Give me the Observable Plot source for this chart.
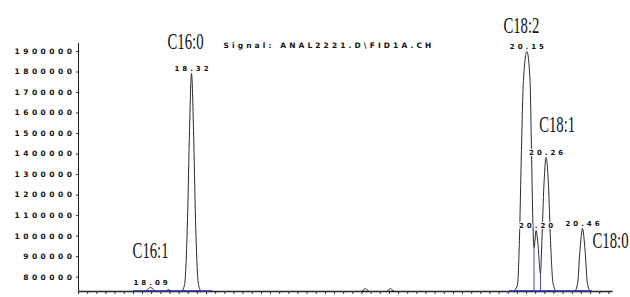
<!DOCTYPE html>
<html><head><meta charset="utf-8">
<script src="https://cdn.jsdelivr.net/npm/d3@7"></script>
<script src="https://cdn.jsdelivr.net/npm/@observablehq/plot@0.6"></script>
<style>
html,body{margin:0;padding:0;background:#fff;overflow:hidden}
g[aria-label="y-axis tick label"] text{letter-spacing:3.5px;font-weight:bold;font-size:7.5px;font-family:"DejaVu Sans"}
g[aria-description="rt labels"] text{letter-spacing:3px}
g[aria-description="title"] text{letter-spacing:3.1px}
</style></head><body><div id="chart"></div>
<script>
// Chromatogram trace (retention time in min, detector signal in counts)
const traceTime = [17.700,
  18.066,18.083,18.094,18.105,18.121,
  18.176,18.192,18.209,
  18.263,18.280,18.296,18.307,18.318,18.329,18.340,18.356,18.373,
  19.247,19.269,19.291,19.384,19.406,19.428,
  20.073,20.100,20.111,20.122,20.133,20.152,20.169,20.177,20.185,20.191,20.202,20.213,20.226,20.234,20.245,20.257,20.270,20.281,20.295,20.314,
  20.412,20.429,20.442,20.456,20.470,20.483,20.500,
  20.620];
const traceSignal = [730000,
  730000,744600,749500,744600,730000,
  730000,739750,730000,
  730000,764100,1076100,1514900,1792800,1514900,1076100,764100,730000,
  730000,744600,730000,730000,744600,730000,
  730000,759250,978600,1417400,1758600,1900000,1758600,1417400,1051800,944500,1027400,954300,817800,978600,1246800,1383300,1246800,978600,769000,730000,
  730000,769000,929900,1037100,929900,769000,730000,
  730000];

// Integrated peaks
const peakTime   = [18.094, 18.318, 20.152, 20.202, 20.257, 20.456];
const peakSignal = [749500, 1792800, 1900000, 1027400, 1383300, 1037100];
const peakName   = ["C16:1", "C16:0", "C18:2", "", "C18:1", "C18:0"];

// Integration baselines and drop lines
const integStart = [18.001, 20.057];
const integEnd   = [18.433, 20.511];
const dropTime   = [20.191, 20.226];
const dropSignal = [944500, 817800];

const yTicks = [800000, 900000, 1000000, 1100000, 1200000, 1300000, 1400000, 1500000, 1600000, 1700000, 1800000, 1900000];
const signalTitle = "Signal: ANAL2221.D\\FID1A.CH";

const baseSignal = 730000;
const trace = traceTime.map((t, i) => ({t, v: traceSignal[i]}));
const peaks = peakTime.map((t, i) => ({t, v: peakSignal[i], name: peakName[i], rt: t.toFixed(2)}));
const integ = integStart.map((s, i) => ({x1: s, x2: integEnd[i]}));
const drops = dropTime.map((t, i) => ({t, v: dropSignal[i]}));
const xTicks = d3.range(0, 59).map(i => +(17.7 + i * 0.05).toFixed(2));

const nameOffsets = {"C16:1": [0, -36.5], "C16:0": [-6, -32], "C18:2": [-5.5, -26], "C18:1": [11, -32.5], "C18:0": [28, 12]};

const nameMarks = peaks.filter(p => p.name).map(p => Plot.text([p], {
  x: "t", y: "v", text: "name",
  dx: nameOffsets[p.name][0], dy: nameOffsets[p.name][1],
  fontSize: 23, fontFamily: "Liberation Serif", fill: "#111",
  ariaDescription: "peak name"
}));

const chart = Plot.plot({
  width: 630, height: 297,
  marginLeft: 78, marginRight: 18, marginTop: 0, marginBottom: 6,
  style: {background: "#fff", fontFamily: "DejaVu Sans", color: "#111"},
  x: {domain: [17.7, 20.62], range: [78, 612], label: null},
  y: {domain: [baseSignal, 1900000], range: [291, 51], label: null},
  marks: [
    Plot.axisX({ticks: xTicks, tickSize: 3, tickFormat: () => "", stroke: "#333", label: null}),
    Plot.axisY({ticks: yTicks, tickSize: 2, tickPadding: 1, tickFormat: d => String(d), stroke: "#333", fill: "#111", label: null}),
    Plot.ruleX([17.7], {y1: baseSignal, y2: 1939000, stroke: "#222", strokeWidth: 1}),
    Plot.ruleY([baseSignal], {stroke: "#111", strokeWidth: 1.3}),
    Plot.line(trace, {x: "t", y: "v", stroke: "#2a2a2a", strokeWidth: 1, curve: "monotone-x"}),
    Plot.ruleY(integ, {x1: "x1", x2: "x2", y: () => baseSignal + 2500, stroke: "#2b2bb0", strokeWidth: 1.5}),
    Plot.ruleX(drops, {x: "t", y1: baseSignal, y2: "v", stroke: "#4848b8", strokeWidth: 1}),
    Plot.text(peaks, {x: "t", y: "v", text: "rt", dx: 1.5, dy: -5, fontSize: 7, fontWeight: "bold", fill: "#111", stroke: "white", strokeWidth: 2, paintOrder: "stroke", ariaDescription: "rt labels"}),
    ...nameMarks,
    Plot.text([signalTitle], {frameAnchor: "top-left", dx: 145, dy: 42, text: d => d, textAnchor: "start", fontSize: 7.5, fontWeight: "bold", fill: "#111", ariaDescription: "title"})
  ]
});

// condense the serif peak names horizontally (tall narrow lettering)
d3.select(chart).selectAll('g[aria-description="peak name"] text').each(function () {
  const tr = this.getAttribute("transform") || "";
  this.setAttribute("transform", tr + " scale(0.64,1)");
});

document.getElementById("chart").appendChild(chart);
</script></body></html>
